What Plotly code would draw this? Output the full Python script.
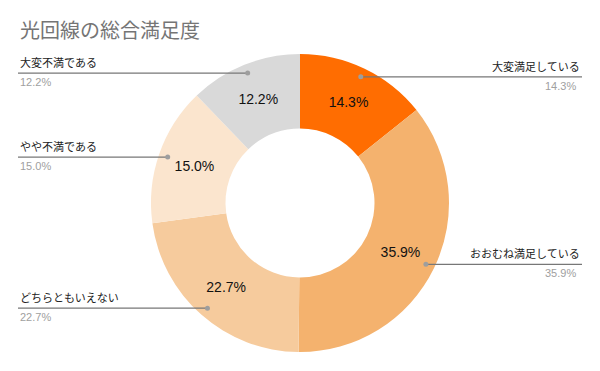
import math
import plotly.graph_objects as go

labels = ["大変満足している", "おおむね満足している", "どちらともいえない", "やや不満である", "大変不満である"]
values = [14.3, 35.9, 22.7, 15.0, 12.2]
colors = ["#FF6D01", "#F4B26E", "#F6CB9D", "#FBE5CE", "#D9D9D9"]
title = "光回線の総合満足度"

W, H = 600, 371
CX, CY, R = 300, 203, 149
top_px, bot_px = CY - R, CY + R

fig = go.Figure()
fig.add_trace(go.Pie(
    labels=labels, values=values, sort=False, direction="clockwise", rotation=0,
    hole=0.5, marker=dict(colors=colors, line=dict(width=0)),
    textinfo="percent", texttemplate="%{value:.1f}%", textposition="inside",
    insidetextorientation="horizontal",
    textfont=dict(family="Liberation Sans, Arial, sans-serif", size=14, color="#111111"),
    domain=dict(x=[0, 1], y=[1 - bot_px / H, 1 - top_px / H]),
    showlegend=False, hoverinfo="label+percent",
))

shapes, annotations = [], []
total = sum(values)
cum = 0.0
LEFT_X, RIGHT_X = 18, 582
for lab, v in zip(labels, values):
    mid = (cum + v / 2) / total * 2 * math.pi
    cum += v
    rr = R * 0.94
    px = CX + rr * math.sin(mid)
    py = CY - rr * math.cos(mid)
    right = math.sin(mid) > 0
    x_end = RIGHT_X if right else LEFT_X
    yp = 1 - py / H
    shapes.append(dict(type="line", xref="paper", yref="paper",
                       x0=px / W, x1=x_end / W, y0=yp, y1=yp,
                       line=dict(color="#777777", width=1.3)))
    shapes.append(dict(type="circle", xref="paper", yref="paper",
                       x0=(px - 2.5) / W, x1=(px + 2.5) / W,
                       y0=yp - 2.5 / H, y1=yp + 2.5 / H,
                       fillcolor="#9E9E9E", line=dict(width=0)))
    anchor = "right" if right else "left"
    annotations.append(dict(xref="paper", yref="paper", x=x_end / W, y=yp + 1 / H,
                            text=lab, showarrow=False, xanchor=anchor, yanchor="bottom",
                            font=dict(family="Noto Sans CJK JP", size=11, color="#222222")))
    annotations.append(dict(xref="paper", yref="paper", x=(x_end - (4 if right else 0)) / W,
                            y=yp - 1 / H,
                            text=f"{v:.1f}%", showarrow=False, xanchor=anchor, yanchor="top",
                            font=dict(family="Liberation Sans, Arial, sans-serif", size=11,
                                      color="#A0A0A0")))

annotations.append(dict(xref="paper", yref="paper", x=18 / W, y=1 - 30 / H, text=title,
                        showarrow=False, xanchor="left", yanchor="middle",
                        font=dict(family="Noto Sans CJK JP", size=20, color="#757575")))

fig.update_layout(width=W, height=H, margin=dict(l=0, r=0, t=0, b=0),
                  paper_bgcolor="white", plot_bgcolor="white",
                  shapes=shapes, annotations=annotations)
fig.write_html("out.html")
